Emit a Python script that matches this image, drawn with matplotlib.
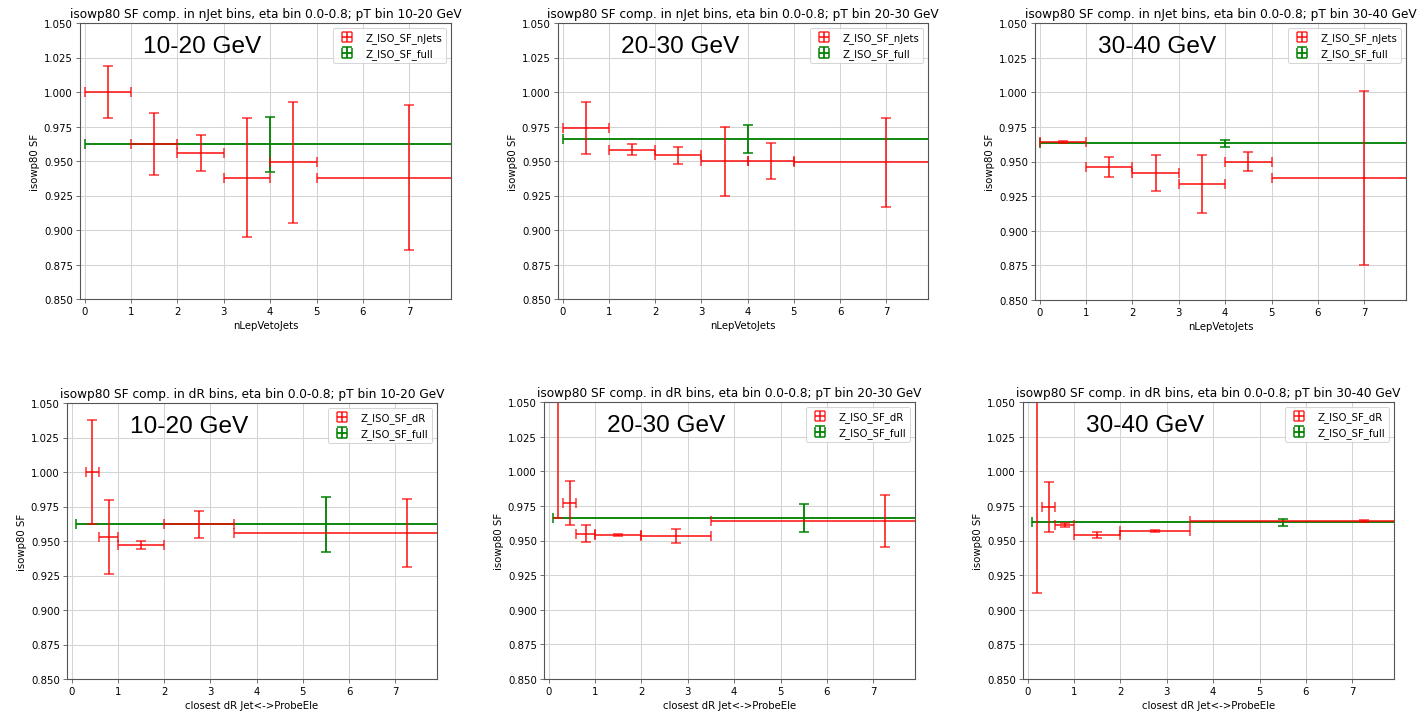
import numpy as np
import matplotlib
matplotlib.use("Agg")
import matplotlib.pyplot as plt

DPI = 73

pt_bins = ["10-20", "20-30", "30-40"]

# nJet binning (top row)
njet_x = [0.5, 1.5, 2.5, 3.5, 4.5, 7.0]
njet_xerr = [0.5, 0.5, 0.5, 0.5, 0.5, 2.0]
njet_sf = {
    "10-20": [1.000, 0.962, 0.956, 0.938, 0.949, 0.938],
    "20-30": [0.974, 0.958, 0.954, 0.950, 0.950, 0.949],
    "30-40": [0.964, 0.946, 0.942, 0.934, 0.950, 0.938],
}
njet_err = {
    "10-20": [0.019, 0.0225, 0.013, 0.043, 0.044, 0.0525],
    "20-30": [0.019, 0.004, 0.0065, 0.025, 0.013, 0.0325],
    "30-40": [0.0006, 0.007, 0.013, 0.021, 0.007, 0.063],
}
njet_full_x, njet_full_xerr = 4.0, 4.0

# dR binning (bottom row)
dr_x = [0.2, 0.45, 0.8, 1.5, 2.75, 7.25]
dr_xerr = [0.1, 0.15, 0.2, 0.5, 0.75, 3.75]
dr_sf = {
    "10-20": [np.nan, 1.000, 0.953, 0.947, 0.962, 0.956],
    "20-30": [1.100, 0.977, 0.955, 0.954, 0.953, 0.964],
    "30-40": [1.100, 0.974, 0.961, 0.954, 0.957, 0.964],
}
dr_err = {
    "10-20": [np.nan, 0.038, 0.027, 0.003, 0.010, 0.0245],
    "20-30": [0.134, 0.016, 0.006, 0.0006, 0.005, 0.019],
    "30-40": [0.188, 0.018, 0.0015, 0.002, 0.0006, 0.0006],
}
dr_full_x, dr_full_xerr = 5.5, 5.4

full_sf = {"10-20": 0.962, "20-30": 0.966, "30-40": 0.963}
full_err = {"10-20": 0.020, "20-30": 0.010, "30-40": 0.0025}

# axes boxes in pixels: left, top, right, bottom
boxes_top = [(80, 24, 451, 300), (558, 24, 928, 300), (1035, 24, 1406, 301)]
boxes_bot = [(67, 404, 437, 680), (544, 403, 915, 680), (1023, 403, 1394, 680)]

W, H = 1421, 714
fig = plt.figure(figsize=(W / DPI, H / DPI), dpi=DPI)


def make_axes(box):
    l, t, r, b = box
    return fig.add_axes([l / W, 1 - b / H, (r - l) / W, (b - t) / H])


def draw_panel(ax, x, xerr, sf, err, fx, fxerr, fsf, ferr, lab, title, xlabel, pt):
    ax.grid(True, color="#d4d4d4", linewidth=1.0)
    ax.set_axisbelow(True)
    for sp in ax.spines.values():
        sp.set_color("#555555")
        sp.set_linewidth(1.1)
    ax.tick_params(color="#555555")
    hf = ax.errorbar([fx], [fsf], xerr=[fxerr], yerr=[ferr], fmt="none",
                     ecolor="green", capsize=5, elinewidth=1.8, capthick=1.5,
                     label="Z_ISO_SF_full")
    hr = ax.errorbar(x, sf, xerr=xerr, yerr=err, fmt="none", ecolor="red",
                     alpha=0.8, capsize=5, elinewidth=1.8, capthick=1.5, label=lab)
    ax.set_xlim(-0.1, 7.9)
    ax.set_ylim(0.85, 1.05)
    ax.set_yticks(np.arange(0.85, 1.0501, 0.025))
    ax.set_title(title, fontsize=12)
    ax.set_xlabel(xlabel)
    ax.set_ylabel("isowp80 SF")
    ax.legend([hr, hf], [lab, "Z_ISO_SF_full"], loc="upper right")
    ax.text(0.17, 0.895, pt + " GeV", transform=ax.transAxes, fontsize=24,
            family="Liberation Sans", va="baseline")


for i, pt in enumerate(pt_bins):
    ax = make_axes(boxes_top[i])
    draw_panel(ax, njet_x, njet_xerr, njet_sf[pt], njet_err[pt],
               njet_full_x, njet_full_xerr, full_sf[pt], full_err[pt],
               "Z_ISO_SF_nJets",
               f"isowp80 SF comp. in nJet bins, eta bin 0.0-0.8; pT bin {pt} GeV",
               "nLepVetoJets", pt)

    ax = make_axes(boxes_bot[i])
    draw_panel(ax, dr_x, dr_xerr, dr_sf[pt], dr_err[pt],
               dr_full_x, dr_full_xerr, full_sf[pt], full_err[pt],
               "Z_ISO_SF_dR",
               f"isowp80 SF comp. in dR bins, eta bin 0.0-0.8; pT bin {pt} GeV",
               "closest dR Jet<->ProbeEle", pt)

fig.savefig("out.png", dpi=DPI)
